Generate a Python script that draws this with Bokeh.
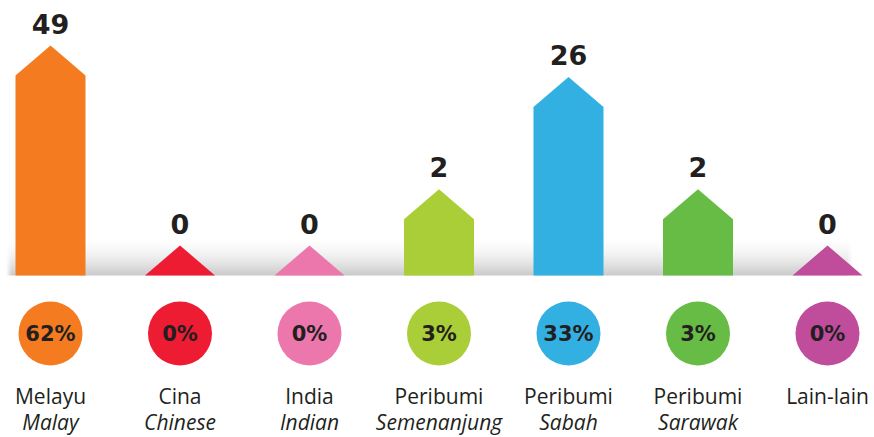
import numpy as np
from bokeh.plotting import figure
from bokeh.models import Range1d, LogScale, ColumnDataSource
from bokeh.core.properties import value
from bokeh.embed import file_html
from bokeh.resources import INLINE

# ---- data ----
groups_ms = ["Melayu", "Cina", "India", "Peribumi", "Peribumi", "Peribumi", "Lain-lain"]
groups_en = ["Malay", "Chinese", "Indian", "Semenanjung", "Sabah", "Sarawak", ""]
seats = [49, 0, 0, 2, 26, 2, 0]
percent = [62, 0, 0, 3, 33, 3, 0]
colors = ["#F47B20", "#ED1C33", "#EC77AD", "#AACE37", "#33B0E2", "#67BC45", "#C04D9C"]

# ---- layout constants ----
W, H = 874, 437
STEP = 129.5                 # px per category
X_LEFT = -50 / STEP          # left edge of frame in category units
BASE = 162                   # baseline, px above frame bottom
PX_LN = 200 / np.log(50)     # px per ln-unit on the log1p bar scale
ROOF = 30                    # roof height in px
GAP = 22                     # roof peak -> centre of value label, px
BAR_W = 70 / STEP
TXT = "#231F20"

p = figure(width=W, height=H, output_backend="svg", toolbar_location=None,
           x_range=Range1d(X_LEFT, X_LEFT + W / STEP), y_range=Range1d(0, H),
           x_axis_location=None, y_axis_location=None,
           min_border=0, outline_line_color=None, background_fill_color="white")
p.grid.visible = False
p.extra_y_ranges = {"bars": Range1d(np.exp(-BASE / PX_LN), np.exp((H - BASE) / PX_LN))}
p.extra_y_scales = {"bars": LogScale()}

# ---- floor shadow (decoration) ----
sh_h, sh_w = 40, 848
img = np.zeros((sh_h, sh_w), dtype=np.uint32)
view = img.view(dtype=np.uint8).reshape((sh_h, sh_w, 4))
rows = 1 - (np.arange(sh_h) + 0.5) / sh_h
alpha_r = 0.40 * rows ** 1.8
cols = np.clip(np.minimum(np.arange(sh_w), sh_w - 1 - np.arange(sh_w)) / 6.0, 0, 1)
alpha = np.outer(alpha_r, cols)
view[:, :, 0] = 120
view[:, :, 1] = 120
view[:, :, 2] = 120
view[:, :, 3] = (alpha * 255).astype(np.uint8)
p.image_rgba(image=[img], x=X_LEFT + 5 / STEP, y=BASE, dw=sh_w / STEP, dh=sh_h)

# ---- bars as "houses" on a log1p scale ----
idx = np.arange(len(seats))
top = np.array(seats, dtype=float) + 1.0
rf = np.exp(ROOF / PX_LN)
gf = np.exp(GAP / PX_LN)
src = ColumnDataSource(dict(
    x=idx, top=top, label_y=top * rf * gf, color=colors,
    seats=[str(s) for s in seats], pct=[f"{v}%" for v in percent],
    ms=groups_ms, en=groups_en,
))

half = BAR_W / 2
p.patches(xs=[[i - half, i - half, i, i + half, i + half] for i in idx],
          ys=[[1, t, t * rf, t, 1] for t in top],
          fill_color=colors, line_color=None, y_range_name="bars")

p.text(x="x", y="label_y", text="seats", source=src, y_range_name="bars",
       text_font=value("DejaVu Sans"), text_font_style="bold", text_font_size="27px",
       text_color=TXT, text_align="center", text_baseline="middle")

# ---- percentage circles ----
p.scatter(x="x", y=104, size=64, marker="circle", fill_color="color", line_color=None, source=src)
p.text(x="x", y=104, text="pct", source=src,
       text_font=value("DejaVu Sans"), text_font_style="bold", text_font_size="21px",
       text_color=TXT, text_align="center", text_baseline="middle")

# ---- category labels ----
p.text(x="x", y=42, text="ms", source=src,
       text_font=value("Open Sans"), text_font_size="21px",
       text_color=TXT, text_align="center", text_baseline="middle")
p.text(x="x", y=16, text="en", source=src,
       text_font=value("Open Sans"), text_font_style="italic", text_font_size="21px",
       text_color=TXT, text_align="center", text_baseline="middle")

open("out.html", "w").write(file_html(p, INLINE))
